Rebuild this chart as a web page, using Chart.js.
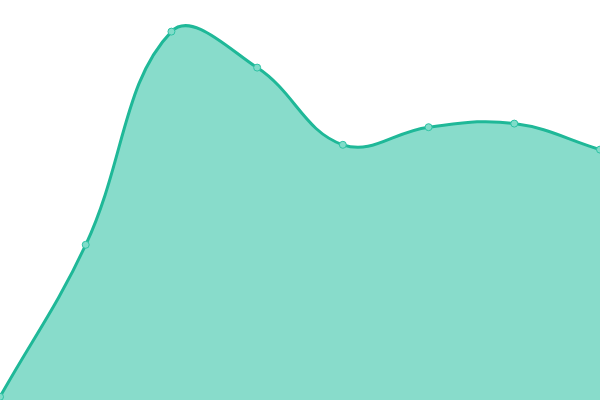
<!DOCTYPE html>
<html>
<head>
<meta charset="utf-8">
<script src="https://cdn.jsdelivr.net/npm/chart.js@4/dist/chart.umd.min.js"></script>
<style>
  html, body { margin: 0; padding: 0; background: #fff; }
  #wrap { width: 600px; height: 400px; }
</style>
</head>
<body>
<div id="wrap"><canvas id="chart"></canvas></div>
<script>
// values, scale 0..100
var labels = ["1", "2", "3", "4", "5", "6", "7", "8"]
var values = [0.8, 38.8, 92.1, 83.1, 63.8, 68.2, 69.1, 62.6]

var ctx = document.getElementById("chart")
var chart = new Chart(ctx, {
  type: 'line',
  data: {
    labels: labels,
    datasets: [
      {
        data: values,
        fill: true,
        tension: 0.4,
        borderColor: "#1fb898",
        borderWidth: 3,
        backgroundColor: "rgba(26, 188, 156, 0.52)",
        pointRadius: 3.5,
        pointBorderWidth: 1,
        pointBackgroundColor: "#80dcc9",
        pointBorderColor: "#2ec2a4"
      }
    ]
  },
  options: {
    responsive: true,
    maintainAspectRatio: false,
    animation: false,
    layout: { padding: 0, autoPadding: false },
    plugins: {
      legend: { display: false },
      tooltip: { enabled: false }
    },
    scales: {
      x: { display: false },
      y: { display: false, min: 0, max: 100 }
    }
  }
})
</script>
</body>
</html>
